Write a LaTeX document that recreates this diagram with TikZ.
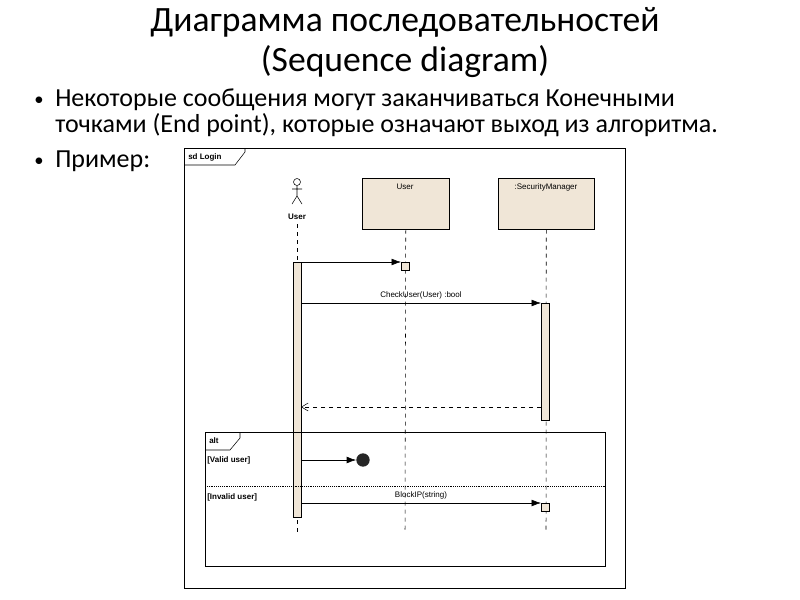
\documentclass[tikz,border=0pt]{standalone}
\usepackage{fontspec}
\setmainfont{Carlito}
\newfontfamily\arial{Liberation Sans}
\usetikzlibrary{arrows.meta}
\definecolor{boxfill}{RGB}{240,230,215}
\tikzset{x=0.75pt,y=-0.75pt,
 lbl/.style={font=\arial\fontsize{6}{7}\selectfont,inner sep=0pt},
 blbl/.style={font=\arial\bfseries\fontsize{6}{7}\selectfont,inner sep=0pt,anchor=west},
 life/.style={dashed,thin},
 msg/.style={-{Latex[length=7pt,width=5pt]},thin},
 act/.style={draw,fill=boxfill,thin},
 txt/.style={font=\fontsize{19.5}{23}\selectfont,anchor=west,inner sep=0pt},
 bul/.style={font=\fontsize{14}{16}\selectfont,anchor=west,inner sep=0pt}}
\begin{document}
\begin{tikzpicture}
\useasboundingbox (0,0) rectangle (800,600);
\node[font=\fontsize{26.7}{30}\selectfont,align=center] (title) at (405,43) {Диаграмма последовательностей\\(Sequence diagram)};
\node[bul] (b1) at (34,101) {•};
\node[txt] (t1) at (55,100) {Некоторые сообщения могут заканчиваться Конечными};
\node[txt] (t2) at (55,125) {точками (End point), которые означают выход из алгоритма.};
\node[bul] (b2) at (34,162) {•};
\node[txt] (t3) at (55,161) {Пример:};
% frame
\draw[thin] (184,148) rectangle (625,588);
\draw[thin] (184,165) -- (235,165) -- (245,152) -- (245,148);
\node[blbl] (sd) at (188,157) {sd Login};
% actor
\draw[thin] (297,182) circle (3.5);
\draw[thin] (297,185.5) -- (297,196) (292,189) -- (302,189) (292,204) -- (297,196) -- (302,204);
\node[blbl,anchor=center] (actor) at (297,217) {User};
\coordinate (aTop) at (297,224);
\coordinate (aBot) at (297,533);
\draw[life] (aTop) -- (aBot);
% objects
\node[act,minimum width=87*0.75pt,minimum height=51*0.75pt,anchor=north west] (u) at (362,178) {};
\node[lbl] at (405,187) {User};
\node[act,minimum width=96*0.75pt,minimum height=51*0.75pt,anchor=north west] (sm) at (498,178) {};
\node[lbl] at (546,187) {:SecurityManager};
\coordinate (uBot) at (405,533);
\coordinate (smBot) at (546,533);
\draw[life] (u.south) -- (uBot);
\draw[life] (sm.south) -- (smBot);
% activations
\draw[act] (293,262) rectangle (301,517);
\draw[act] (541,303) rectangle (549,420);
\node[act,minimum size=6pt,inner sep=0pt,anchor=north west] (ub) at (401,262) {};
\node[act,minimum size=6pt,inner sep=0pt,anchor=north west] (smb) at (541,503) {};
\coordinate (a1) at (301,262);
\draw[msg] (a1) -- (ub.north west);
\coordinate (a2) at (301,303);
\coordinate (s2) at (541,303);
\draw[msg] (a2) -- node[lbl,above=3pt] {CheckUser(User) :bool} (s2);
\coordinate (s3) at (541,407);
\coordinate (a3) at (301,407);
\draw[dashed,thin,-{Straight Barb[length=5pt,width=6pt]}] (s3) -- (a3);
% alt
\draw[thin] (205,432) rectangle (605,566);
\draw[thin] (205,450) -- (230,450) -- (240,438) -- (240,432);
\node[blbl] (alt) at (209,441) {alt};
\draw[densely dotted,thin] (205,486) -- (605,486);
\node[blbl] (v) at (207,460) {[Valid user]};
\node[blbl] (iv) at (207,497) {[Invalid user]};
\node[circle,fill=black!85,minimum size=10pt,inner sep=0pt] (end) at (363,460) {};
\coordinate (a4) at (301,460);
\draw[msg] (a4) -- (end.west);
\coordinate (a5) at (301,503);
\draw[msg] (a5) -- node[lbl,above=3pt] {BlockIP(string)} (smb.north west);
\end{tikzpicture}
\end{document}
